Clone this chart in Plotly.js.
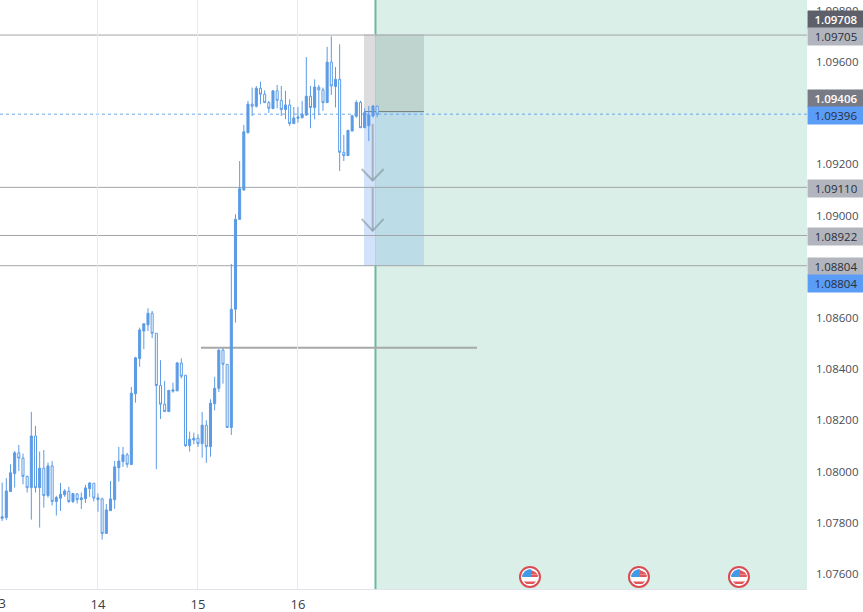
<!DOCTYPE html>
<html><head><meta charset="utf-8">
<script src="https://cdn.plot.ly/plotly-3.0.1.min.js"></script>
<style>html,body{margin:0;padding:0;background:#fff;overflow:hidden}#c{width:863px;height:612px}</style>
</head><body><div id="c"></div>
<script>
const firstHour = '2023-11-13T01:00:00Z';
const opens = [1.07817,1.07820,1.07922,1.07992,1.08073,1.08052,1.07981,1.07937,1.08139,1.07937,1.08013,1.07906,1.08022,1.07883,1.07896,1.07909,1.07923,1.07883,1.07912,1.07890,1.07894,1.07933,1.07954,
 1.07890,1.07893,1.07758,1.07847,1.07890,1.08015,1.08039,1.08065,1.08027,1.08304,1.08441,1.08549,1.08573,1.08618,1.08540,1.08336,1.08263,1.08234,1.08314,1.08315,1.08424,1.08376,1.08101,1.08123,
 1.08130,1.08109,1.08181,1.08097,1.08265,1.08325,1.08474,1.08419,1.08172,1.08634,1.08985,1.09100,1.09324,1.09435,1.09427,1.09497,1.09474,1.09441,1.09418,1.09487,1.09450,1.09414,1.09432,1.09359,
 1.09380,1.09382,1.09393,1.09466,1.09422,1.09501,1.09491,1.09441,1.09599,1.09504,1.09532,1.09247,1.09234,1.09330,1.09388,1.09442,1.09343,1.09351,1.09389,1.09427];
const closes = [1.07823,1.07924,1.07995,1.08073,1.08052,1.07981,1.07937,1.08139,1.07937,1.08013,1.07906,1.08022,1.07883,1.07898,1.07911,1.07924,1.07883,1.07914,1.07890,1.07897,1.07936,1.07955,1.07896,
 1.07897,1.07758,1.07850,1.07893,1.08018,1.08041,1.08065,1.08028,1.08306,1.08444,1.08553,1.08577,1.08618,1.08540,1.08336,1.08263,1.08234,1.08317,1.08319,1.08424,1.08372,1.08101,1.08126,1.08130,
 1.08109,1.08181,1.08097,1.08267,1.08325,1.08474,1.08419,1.08172,1.08634,1.08985,1.09105,1.09327,1.09435,1.09427,1.09497,1.09474,1.09441,1.09419,1.09487,1.09450,1.09414,1.09432,1.09359,1.09381,
 1.09385,1.09396,1.09466,1.09422,1.09502,1.09491,1.09441,1.09599,1.09506,1.09532,1.09247,1.09234,1.09333,1.09390,1.09442,1.09343,1.09402,1.09393,1.09428,1.09396];
const highs = [1.07957,1.07974,1.08028,1.08080,1.08104,1.08070,1.07984,1.08233,1.08178,1.08078,1.08084,1.08035,1.08041,1.07905,1.07955,1.07931,1.07940,1.07916,1.07916,1.07918,1.07948,1.07959,1.07954,
 1.07914,1.07898,1.07873,1.07963,1.08041,1.08096,1.08096,1.08073,1.08330,1.08448,1.08562,1.08579,1.08638,1.08627,1.08540,1.08435,1.08354,1.08317,1.08347,1.08428,1.08442,1.08376,1.08156,1.08152,
 1.08146,1.08233,1.08200,1.08282,1.08370,1.08478,1.08481,1.08419,1.08811,1.09005,1.09213,1.09354,1.09448,1.09500,1.09506,1.09523,1.09489,1.09448,1.09489,1.09510,1.09506,1.09487,1.09454,1.09424,
 1.09424,1.09448,1.09619,1.09506,1.09532,1.09510,1.09500,1.09659,1.09700,1.09580,1.09669,1.09315,1.09333,1.09393,1.09450,1.09448,1.09419,1.09428,1.09432,1.09429];
const lows = [1.07807,1.07810,1.07922,1.07937,1.08002,1.07950,1.07918,1.07812,1.07918,1.07781,1.07859,1.07898,1.07867,1.07828,1.07846,1.07901,1.07877,1.07877,1.07875,1.07854,1.07877,1.07901,1.07883,
 1.07843,1.07734,1.07758,1.07847,1.07854,1.07961,1.08018,1.08015,1.08027,1.08269,1.08409,1.08478,1.08549,1.08521,1.08009,1.08205,1.08234,1.08234,1.08308,1.08315,1.08364,1.08096,1.08078,1.08106,
 1.08096,1.08054,1.08034,1.08058,1.08239,1.08311,1.08343,1.08172,1.08143,1.08582,1.08983,1.09096,1.09320,1.09389,1.09422,1.09435,1.09441,1.09401,1.09415,1.09419,1.09389,1.09376,1.09350,1.09359,
 1.09363,1.09380,1.09389,1.09341,1.09376,1.09393,1.09409,1.09441,1.09471,1.09422,1.09174,1.09213,1.09234,1.09330,1.09382,1.09343,1.09343,1.09291,1.09382,1.09384];
const times = opens.map((_, i) => new Date(Date.parse(firstHour) + i * 3600000).toISOString());

const levelPrices = [1.09705, 1.09110, 1.08922, 1.08804];
const currentPrice = 1.09396;
const entryPrice = 1.09406, stopPrice = 1.09708, targetPrice = 1.08804;
const midLinePrice = 1.08483;
const priceTicks = [1.098,1.096,1.092,1.090,1.086,1.084,1.082,1.080,1.078,1.076];
const dayTicks = ['2023-11-14','2023-11-15','2023-11-16'];
const dayLabels = ['14','15','16'];
const tagTexts = ['1.09708','1.09705','1.09406','1.09396','1.09110','1.08922','1.08804','1.08804'];
const tagPrices = [1.09708,1.09705,1.09406,1.09396,1.09110,1.08922,1.08804,1.08804];
const tagShifts = [15,-1,13,-1,-1,-1,-1,-18];
const tagFills = ['#5d606b','#b2b5be','#787b86','#5b9cf6','#b2b5be','#b2b5be','#b2b5be','#5b9cf6'];
const tagInks = ['#ffffff','#2a2e39','#ffffff','#2a2e39','#2a2e39','#2a2e39','#2a2e39','#2a2e39'];
const tagWeights = [600,400,600,400,400,400,400,400];
const eventTimes = ['2023-11-18T07:41','2023-11-19T09:50','2023-11-20T09:50'];

const T0 = '2023-11-13T00:29', T1 = '2023-11-21T02:10';
const boxL = '2023-11-16T15:50', boxR = '2023-11-17T06:14', nowT = '2023-11-16T18:36';

const shapes = [];
const rect = (x0,x1,y0,y1,fill) => shapes.push({type:'rect',xref:'x',yref:'y',x0,x1,y0,y1,fillcolor:fill,line:{width:0},layer:'below'});
const hline = (p,color,dash,x0,x1,w) => shapes.push({type:'line',xref:'x',yref:'y',x0:x0||T0,x1:x1||T1,y0:p,y1:p,line:{color,width:w||1,dash:dash||'solid'},layer:'below'});
shapes.push({type:'rect',xref:'x',yref:'paper',x0:nowT,x1:T1,y0:0,y1:1,fillcolor:'#d9efe8',line:{width:0},layer:'below'});
rect(boxL,nowT,entryPrice,stopPrice,'#dcdcdf');
rect(nowT,boxR,entryPrice,stopPrice,'#bfd3cf');
rect(boxL,nowT,targetPrice,entryPrice,'#d3e2fb');
rect(nowT,boxR,targetPrice,entryPrice,'#bcdde8');
levelPrices.forEach(p => hline(p,'#a3a6a8'));
hline(currentPrice,'#6aa8f0','dot');
hline(entryPrice,'#6f7a78','solid',boxL,boxR);
hline(midLinePrice,'#a8a8a8','solid','2023-11-15T00:43','2023-11-17T18:58',2);
shapes.push({type:'line',xref:'x',yref:'paper',x0:nowT,x1:nowT,y0:0,y1:1,line:{color:'#6db8a0',width:2},layer:'below'});
const arrow = {color:'rgba(130,145,150,0.6)',width:2};
const ax = '2023-11-16_17:56', axL='2023-11-16_15:17', axR='2023-11-16_20:34';
[[1.09358,1.09137,1.09182],[1.09108,1.08940,1.08987]].forEach(([a,b,c]) => {
  shapes.push({type:'line',xref:'x',yref:'y',x0:ax.replace('_','T'),x1:ax.replace('_','T'),y0:a,y1:b,line:arrow});
  shapes.push({type:'path',xref:'x',yref:'y',path:`M ${axL},${c} L ${ax},${b} L ${axR},${c}`,line:arrow});
});
const flagY = 1.07588;
eventTimes.forEach(t => {
  const base = {xsizemode:'pixel',ysizemode:'pixel',xanchor:t,yanchor:flagY,xref:'x',yref:'y'};
  shapes.push({...base,type:'circle',x0:-10,x1:10,y0:-10,y1:10,fillcolor:'#ffffff',line:{width:2,color:'#dc4a52'}});
  const px = (path,fill) => shapes.push({...base,type:'path',path,fillcolor:fill,line:{width:0}});
  px('M -7.8,1 L 7.8,1 L 7,3.6 L -7,3.6 Z','#f0898c');
  px('M 1,6.9 L 5.4,5 L 7,3 L 1,3 Z','#e0575c');
  px('M 1,2 L 7.7,2 L 7.9,0 L 1,0 Z','#e0575c');
  px('M -6.2,-4.5 L 6.2,-4.5 L 3.5,-7 L -3.5,-7 Z','#e0575c');
  px('M -7.9,0 L 1,0 L 1,7.8 L -1,7.8 L -5,6 L -7.5,2 Z','#3f9be8');
});

const annotations = tagTexts.map((text,i) => ({
  xref:'paper',yref:'y',x:1,y:tagPrices[i],xanchor:'left',yanchor:'middle',yshift:tagShifts[i],
  text,showarrow:false,width:56,height:16.6,bgcolor:tagFills[i],borderpad:0,align:'center',
  font:{family:'Open Sans, sans-serif',size:11.5,color:tagInks[i],weight:tagWeights[i]}
}));
annotations.push({xref:'paper',yref:'paper',x:-2/807,y:-14/589,yanchor:'middle',xanchor:'center',text:'13',showarrow:false,
  font:{family:'Open Sans, sans-serif',size:13,color:'#3a3d45'}});

Plotly.newPlot('c',[{
  type:'candlestick',x:times,open:opens,high:highs,low:lows,close:closes,
  increasing:{line:{color:'#5b9be6',width:1},fillcolor:'#5b9be6'},
  decreasing:{line:{color:'#5b9be6',width:1},fillcolor:'#ffffff'},
  whiskerwidth:0,width:3600000*0.62,showlegend:false,hoverinfo:'skip'
}],{
  width:863,height:612,margin:{l:0,r:56,t:0,b:23},
  paper_bgcolor:'#fff',plot_bgcolor:'#fff',showlegend:false,
  xaxis:{type:'date',range:[T0,T1],tickmode:'array',tickvals:dayTicks,ticktext:dayLabels,
    showgrid:true,gridcolor:'#e9e9ea',gridwidth:1,zeroline:false,showline:true,linecolor:'#e0e3eb',linewidth:1,
    ticks:'',rangeslider:{visible:false},tickfont:{family:'Open Sans, sans-serif',size:13,color:'#3a3d45'},ticklabelstandoff:3},
  yaxis:{side:'right',range:[1.07541,1.09842],tickmode:'array',tickvals:priceTicks,tickformat:'.5f',
    showgrid:false,zeroline:false,showline:false,ticks:'',ticklabelstandoff:8,
    tickfont:{family:'Open Sans, sans-serif',size:11.5,color:'#4a4d55'}},
  shapes,annotations
},{staticPlot:true,displayModeBar:false});
</script></body></html>
